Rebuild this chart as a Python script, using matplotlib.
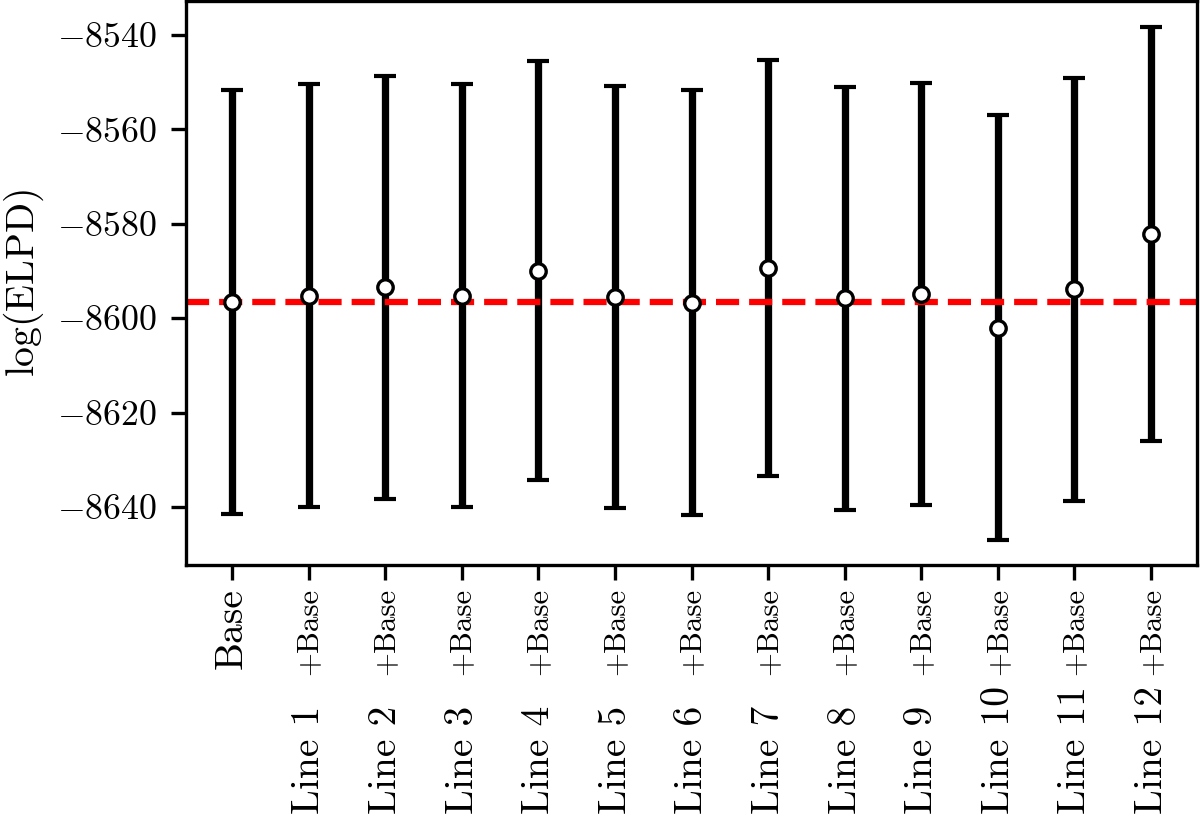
import numpy as np
import matplotlib
matplotlib.use("Agg")
import matplotlib.pyplot as plt

plt.rcParams["font.family"] = "serif"
plt.rcParams["font.serif"] = ["cmr10"]
plt.rcParams["mathtext.fontset"] = "cm"
plt.rcParams["axes.formatter.use_mathtext"] = True
plt.rcParams["font.size"] = 10

# model names and log(ELPD) estimates with standard errors
models = ["Base"] + [f"Line {i}" for i in range(1, 13)]
elpd = [-8596.6, -8595.2, -8593.5, -8595.2, -8589.9, -8595.5, -8596.7,
        -8589.4, -8595.8, -8594.9, -8602.0, -8593.9, -8582.2]
elpd_se = [44.9, 44.8, 44.8, 44.8, 44.4, 44.7, 45.0,
           44.1, 44.8, 44.7, 45.0, 44.8, 43.8]
tick_labels = ["Base"] + ["+Base"] * 12

x = np.arange(len(models))

fig = plt.figure(figsize=(4.0, 815 / 300), dpi=300)
ax = fig.add_axes([0.155, 0.3067, 0.8425, 0.6921])

ax.errorbar(x, elpd, yerr=elpd_se, fmt="none", ecolor="black",
            elinewidth=1.75, capsize=2.6, capthick=1.0, zorder=2)
ax.axhline(elpd[0], color="red", linestyle="--", linewidth=1.5, zorder=2.5)
ax.plot(x, elpd, "o", color="white", markeredgecolor="black",
        markersize=3.7, markeredgewidth=0.8, zorder=3)

ax.set_ylim(-8652.3, -8532.8)
ax.set_yticks([-8640, -8620, -8600, -8580, -8560, -8540])
ax.tick_params(axis="y", labelsize=8.6)
ax.set_ylabel(r"$\log(\mathrm{ELPD})$", fontsize=9.5)
ax.yaxis.set_label_coords(-0.138, 0.5)

ax.set_xticks(x)
ax.set_xticklabels(tick_labels, rotation=90)
ax.tick_params(axis="x", pad=2.0)
for i, lab in enumerate(ax.get_xticklabels()):
    lab.set_fontsize(9.5 if i == 0 else 7.4)

# model names under the "+Base" tags, bottom-aligned at the figure edge
for i in range(1, len(models)):
    ax.annotate(models[i], xy=(x[i], 0), xycoords=("data", "figure fraction"),
                xytext=(2.6, 0.3), textcoords="offset points", rotation=90,
                rotation_mode="anchor", ha="left", va="baseline", fontsize=9.5,
                annotation_clip=False)

fig.savefig("out.png", dpi=300)
